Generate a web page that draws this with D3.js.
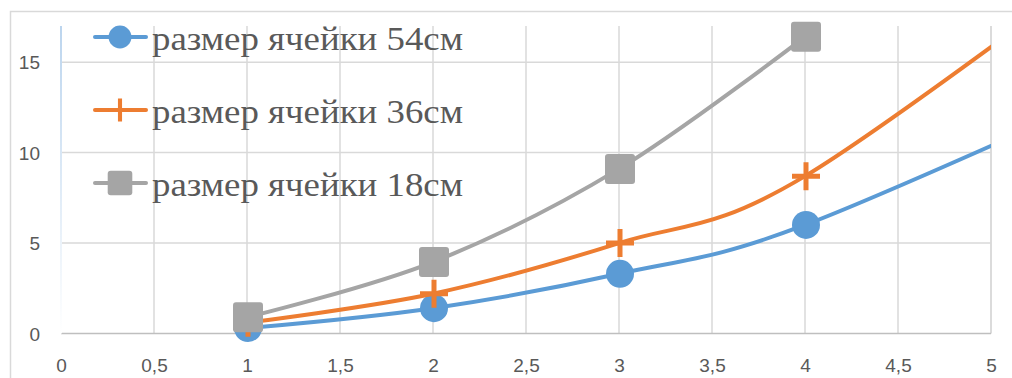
<!DOCTYPE html>
<html>
<head>
<meta charset="utf-8">
<script src="https://cdn.jsdelivr.net/npm/d3@7"></script>
<style>
  html, body { margin: 0; padding: 0; background: #fff; }
  svg { display: block; }
</style>
</head>
<body>
<svg id="chart" width="1012" height="378"></svg>
<script>
// Cell size series: x positions and measured values
const xValues = [1, 2, 3, 4, 6];
const cell54 = [0.3, 1.4, 3.3, 6.0, 15.0];
const cell36 = [0.6, 2.2, 5.0, 8.7, 23.5];
const cell18 = [0.9, 3.95, 9.1, 16.4];
const seriesNames = ["размер ячейки 54см", "размер ячейки 36см", "размер ячейки 18см"];
const xTicks = [0, 0.5, 1, 1.5, 2, 2.5, 3, 3.5, 4, 4.5, 5];
const yTicks = [0, 5, 10, 15];

const svg = d3.select("#chart");
const W = 1012, H = 378;
const plot = { left: 61, right: 991, top: 26, bottom: 333.5 };

const x = d3.scaleLinear().domain([0, 5]).range([plot.left, plot.right]);
const y = d3.scaleLinear().domain([0, 17]).range([plot.bottom, plot.top]);

const defs = svg.append("defs");
defs.append("clipPath").attr("id", "plotClip")
  .append("rect")
  .attr("x", plot.left).attr("y", 0)
  .attr("width", plot.right - plot.left).attr("height", plot.bottom);

const grad = defs.append("linearGradient").attr("id", "yAxisGrad")
  .attr("x1", 0).attr("y1", 0).attr("x2", 0).attr("y2", 1);
grad.append("stop").attr("offset", "0%").attr("stop-color", "#bcd5ee");
grad.append("stop").attr("offset", "100%").attr("stop-color", "#ffffff");

// Outer chart frame
svg.append("rect")
  .attr("x", 10.5).attr("y", 11.5)
  .attr("width", W + 20).attr("height", H + 20)
  .attr("fill", "#fff").attr("stroke", "#d9d9d9").attr("stroke-width", 1.5);

// Gridlines
const grid = svg.append("g");
grid.selectAll(".vg").data(xTicks.slice(1)).join("line")
  .attr("x1", d => x(d)).attr("x2", d => x(d))
  .attr("y1", plot.top).attr("y2", plot.bottom)
  .attr("stroke", d => d === 5 ? "#cfcfcf" : "#d9d9d9").attr("stroke-width", 1.5);
grid.selectAll(".hg").data(yTicks.slice(1)).join("line")
  .attr("x1", plot.left).attr("x2", plot.right)
  .attr("y1", d => y(d)).attr("y2", d => y(d))
  .attr("stroke", "#d9d9d9").attr("stroke-width", 1.5);

// Horizontal axis line and the fading vertical axis line
svg.append("line")
  .attr("x1", plot.left).attr("x2", plot.right)
  .attr("y1", y(0)).attr("y2", y(0))
  .attr("stroke", "#bfbfbf").attr("stroke-width", 1.5);
svg.append("rect")
  .attr("x", plot.left - 1).attr("y", plot.top)
  .attr("width", 2).attr("height", plot.bottom - plot.top)
  .attr("fill", "url(#yAxisGrad)");

// Axis tick labels
const xAxis = d3.axisBottom(x).tickValues(xTicks)
  .tickFormat(d => String(d).replace(".", ",")).tickSize(0).tickPadding(0);
const gx = svg.append("g").attr("transform", `translate(0,${plot.bottom})`).call(xAxis);
gx.select(".domain").remove();
gx.selectAll("text")
  .attr("y", 38).attr("dy", null)
  .attr("font-family", "'Liberation Sans', Arial, sans-serif")
  .attr("font-size", 19).attr("fill", "#595959");

const yAxis = d3.axisLeft(y).tickValues(yTicks).tickSize(0).tickPadding(0);
const gy = svg.append("g").attr("transform", `translate(40,0)`).call(yAxis);
gy.select(".domain").remove();
gy.selectAll("text")
  .attr("x", 0).attr("dy", "0.35em")
  .attr("font-family", "'Liberation Sans', Arial, sans-serif")
  .attr("font-size", 19).attr("fill", "#595959");

const colors = ["#5b9bd5", "#ed7d31", "#a5a5a5"];
const seriesValues = [cell54, cell36, cell18];
const series = seriesValues.map((vals, i) => ({
  name: seriesNames[i],
  color: colors[i],
  marker: ["circle", "plus", "square"][i],
  points: vals.map((v, j) => ({ x: xValues[j], y: v }))
}));

const line = d3.line()
  .x(d => x(d.x)).y(d => y(d.y))
  .curve(d3.curveCatmullRom.alpha(0));

function drawMarker(g, type, color, cx, cy, k = 1) {
  if (type === "circle") {
    g.append("circle").attr("cx", cx).attr("cy", cy).attr("r", 14 * k).attr("fill", color);
  } else if (type === "square") {
    const h = 15 * k;
    g.append("rect").attr("x", cx - h).attr("y", cy - h)
      .attr("width", 2 * h).attr("height", 2 * h).attr("rx", 3).attr("fill", color);
  } else {
    const a = 14 * k;
    g.append("path")
      .attr("d", `M${cx - a},${cy}H${cx + a}M${cx},${cy - a}V${cy + a}`)
      .attr("stroke", color).attr("stroke-width", 5 * k).attr("fill", "none");
  }
}

const marks = svg.append("g");
series.forEach(s => {
  const g = marks.append("g");
  g.append("path")
    .attr("d", line(s.points))
    .attr("clip-path", "url(#plotClip)")
    .attr("fill", "none").attr("stroke", s.color)
    .attr("stroke-width", 4).attr("stroke-linecap", "round");
  s.points.filter(p => p.x <= x.domain()[1]).forEach(p => {
    drawMarker(g, s.marker, s.color, x(p.x) + 1, y(p.y));
  });
});

// Legend
const legendRows = [37, 110, 183];
const legend = svg.append("g");
series.forEach((s, i) => {
  const ly = legendRows[i];
  const g = legend.append("g");
  g.append("line").attr("x1", 95).attr("x2", 146).attr("y1", ly).attr("y2", ly)
    .attr("stroke", s.color).attr("stroke-width", 4).attr("stroke-linecap", "round");
  drawMarker(g, s.marker, s.color, 120, ly, 0.82);
  g.append("text")
    .attr("x", 152).attr("y", ly + 13)
    .attr("font-family", "'Liberation Serif', 'Times New Roman', serif")
    .attr("font-size", 34).attr("fill", "#595959")
    .attr("textLength", 311).attr("lengthAdjust", "spacingAndGlyphs")
    .text(s.name);
});
</script>
</body>
</html>
